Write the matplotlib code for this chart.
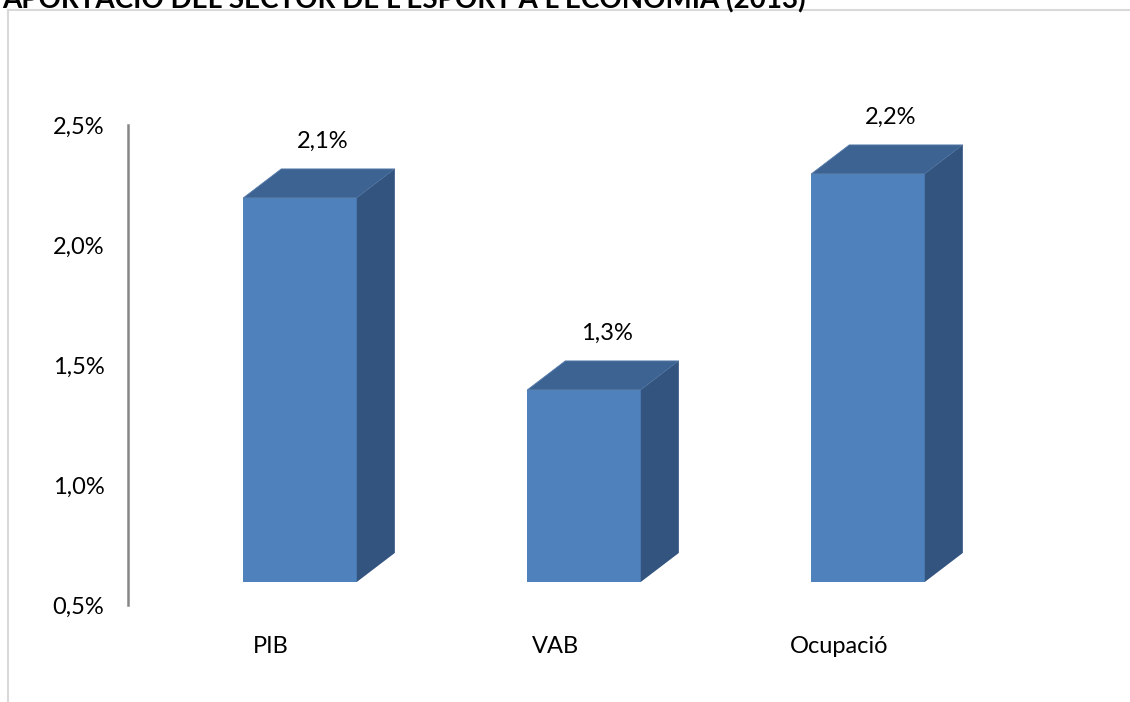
import matplotlib.pyplot as plt
from matplotlib.patches import Polygon, Rectangle

categories = ["PIB", "VAB", "Ocupació"]
values = [2.1, 1.3, 2.2]
value_labels = ["2,1%", "1,3%", "2,2%"]
yticks = [0.5, 1.0, 1.5, 2.0, 2.5]
ytick_labels = ["0,5%", "1,0%", "1,5%", "2,0%", "2,5%"]
title = "APORTACIÓ DEL SECTOR DE L'ESPORT A L'ECONOMIA (2013)"

FRONT = "#4F81BD"
TOP = "#3C6391"
SIDE = "#32547E"

plt.rcParams["font.family"] = ["Lato", "DejaVu Sans"]

W, H = 1130, 702
fig = plt.figure(figsize=(W / 100, H / 100), dpi=100)

# light frame around the chart area (cut by the image edges)
fig.add_artist(plt.Line2D([8 / W, 8 / W], [0, 1 - 10 / H], color="#D9D9D9", lw=1.5))
fig.add_artist(plt.Line2D([8 / W, 1], [1 - 10 / H, 1 - 10 / H], color="#D9D9D9", lw=1.5))

# title, partly cut off at the top like the original
fig.text(2 / W, 1 - 7 / H, title, fontsize=20, fontweight="bold", va="baseline", ha="left")

x0, x1 = -0.6056, 2.6
ax = fig.add_axes([128 / W, 97 / H, (x1 - x0) * 284 / W, 480 / H])
ax.set_xlim(x0, x1)
ax.set_ylim(0.5, 2.5)

width = 0.40      # front face width in category units
dx = 0.134        # depth offset (x)
dy = 0.121        # depth offset (y)
shift = 0.096     # front face lifted above axis baseline
base = 0.5 + shift

for i, v in enumerate(values):
    left = i - width / 2
    right = i + width / 2
    top = v + shift
    ax.add_patch(Rectangle((left, base), width, top - base, facecolor=FRONT, edgecolor="none"))
    ax.add_patch(Polygon([(left, top), (right, top), (right + dx, top + dy), (left + dx, top + dy)],
                         closed=True, facecolor=TOP, edgecolor="#5B7FAE", lw=0.6))
    ax.add_patch(Polygon([(right, base), (right + dx, base + dy), (right + dx, top + dy), (right, top)],
                         closed=True, facecolor=SIDE, edgecolor="none"))
    ax.text(i + 0.08, v + 0.33, value_labels[i], ha="center", va="center", fontsize=17, clip_on=False)

ax.set_yticks(yticks)
ax.set_yticklabels(ytick_labels, fontsize=17)
ax.set_xticks([i - 0.102 for i in range(len(categories))])
ax.set_xticklabels(categories, fontsize=17)
ax.tick_params(axis="y", length=0, pad=17)
ax.tick_params(axis="x", length=0, pad=22)

for s in ["top", "right", "bottom"]:
    ax.spines[s].set_visible(False)
ax.spines["left"].set_color("#868686")
ax.spines["left"].set_linewidth(1.8)
ax.patch.set_alpha(0)

fig.savefig("out.png", dpi=100)
